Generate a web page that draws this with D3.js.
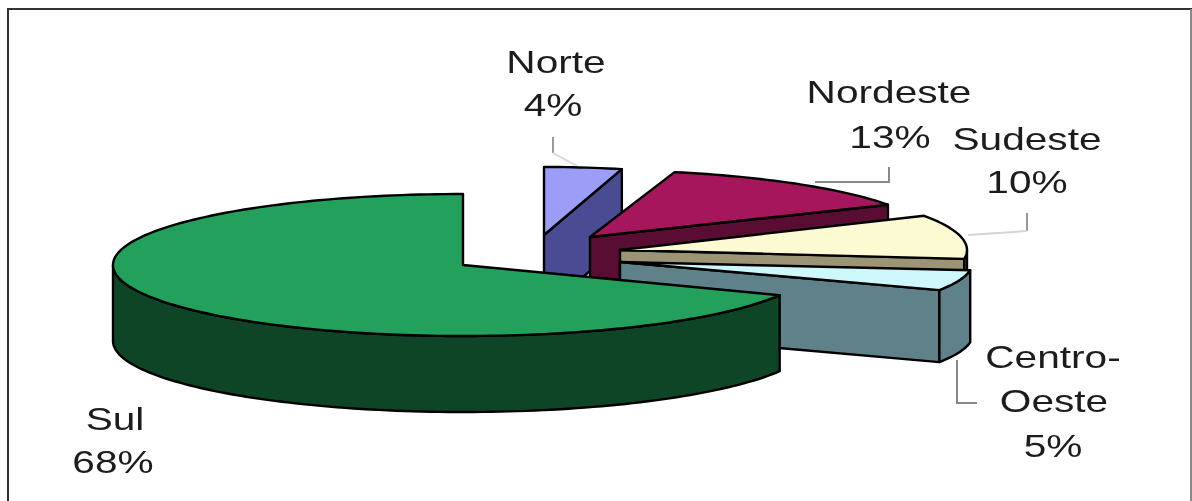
<!DOCTYPE html>
<html><head><meta charset="utf-8">
<script src="https://cdn.jsdelivr.net/npm/d3@7/dist/d3.min.js"></script>
<style>html,body{margin:0;padding:0;background:#fff}svg{display:block}</style>
</head><body><svg id="c" width="1192" height="501"></svg>
<script>
// data
const categories = ["Norte","Nordeste","Sudeste","Centro-Oeste","Sul"];
const values = [4,13,10,5,68];
// layout (one entry per slice)
const apexX = [544,590,620,620,463];
const apexY = [235,237,250,262,265];
const radiusX = [313,340,347,353,350];
const radiusY = [68,67,71,66,71];
const depth = [75,75,75,72,76];
// styles
const topColors = ["#9b9df6","#a5155c","#fbfad2","#cdf7fa","#22a05b"];
const sideColors = ["#4b4c94","#5a0a30","#9c9575","#5f828a","#0b4525"];
// labels: [lines, x, baselines]
const labels = [
  {lines:["Norte","4%"],x:[556,553],y:[73,116]},
  {lines:["Nordeste","13%"],x:[889,890],y:[103,148]},
  {lines:["Sudeste","10%"],x:[1027,1027],y:[150,193]},
  {lines:["Centro-","Oeste","5%"],x:[1053,1054,1053],y:[368,412,457]},
  {lines:["Sul","68%"],x:[115,113],y:[430,473]}
];
const leaders = [
  {pts:[[553,137],[553,153]],c:"#999"},{pts:[[553,153],[577,166]],c:"#ddd"},
  {pts:[[889,167],[889,182],[815,182]],c:"#888"},
  {pts:[[1027,213],[1027,231]],c:"#999"},{pts:[[1027,231],[968,235]],c:"#d4d4d4"},
  {pts:[[957,360],[957,403],[977,403]],c:"#888"}
];

const svg = d3.select("#c");
const defs = svg.append("defs");
defs.append("filter").attr("id","soft").append("feGaussianBlur").attr("stdDeviation",0.7);
const root = svg.append("g").attr("filter","url(#soft)");
const line = d3.line();

// frame: open at the bottom
root.append("path").attr("d",line([[8,501],[8,9],[1191,9],[1191,501]]))
  .attr("fill","none").attr("stroke","#333").attr("stroke-width",2);
root.select("path").clone().attr("d",line([[1191,9],[1191,501]])).attr("stroke","#888");

leaders.forEach(l=>root.append("path").attr("d",line(l.pts)).attr("fill","none").attr("stroke",l.c).attr("stroke-width",2));

const arcs = d3.pie().sort(null).startAngle(0).endAngle(2*Math.PI)(values);

arcs.forEach((a,i)=>{
  const P = (t,dy=0)=>[apexX[i]+radiusX[i]*Math.sin(t), apexY[i]-radiusY[i]*Math.cos(t)+dy];
  const A0 = [apexX[i],apexY[i]], D = depth[i];
  const g = root.append("g").attr("stroke","#000").attr("stroke-width",2.4).attr("stroke-linejoin","round");
  const n = Math.max(4,Math.ceil((a.endAngle-a.startAngle)*40));
  const ts = d3.range(n+1).map(k=>a.startAngle+(a.endAngle-a.startAngle)*k/n);

  // radial side at the start edge is hidden; the one at the end edge shows if it faces the viewer
  if(a.endAngle < Math.PI){
    g.append("path").attr("fill",sideColors[i]).attr("d",line([
      A0,P(a.endAngle),P(a.endAngle,D),[A0[0],A0[1]+D]
    ])+"Z");
  }
  // rim side: the front half of the rim only
  const front = ts.filter(t=>t>=Math.PI/2 && t<=3*Math.PI/2);
  if(front.length>1){
    const rim = front.map(t=>P(t)).concat(front.slice().reverse().map(t=>P(t,D)));
    g.append("path").attr("fill",sideColors[i]).attr("d",line(rim)+"Z");
  }else if(a.startAngle<Math.PI/2 && a.endAngle>Math.PI/2){
    // rim section crossing the rightmost point
    const tt=[Math.PI/2,a.endAngle];
    g.append("path").attr("fill",sideColors[i]).attr("d",line([P(tt[0]),P(tt[1]),P(tt[1],D),P(tt[0],D)])+"Z");
  }
  // top face
  g.append("path").attr("fill",topColors[i]).attr("d",line([A0].concat(ts.map(t=>P(t))))+"Z");
});

// labels
const sx = 1.27;
labels.forEach(l=>l.lines.forEach((t,j)=>{
  root.append("text").text(t)
    .attr("transform",`translate(${l.x[j]},${l.y[j]}) scale(${sx},1)`)
    .attr("text-anchor","middle")
    .attr("font-family","'Liberation Sans',Arial,sans-serif")
    .attr("font-size",32).attr("fill","#1c1c1c");
}));
</script></body></html>
